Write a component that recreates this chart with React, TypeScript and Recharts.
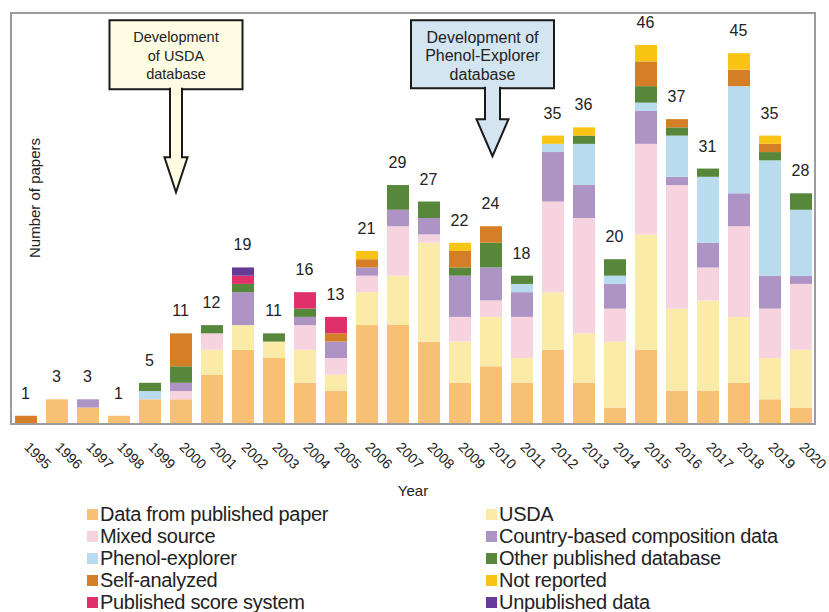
import { ComposedChart, Bar, Line, XAxis, YAxis, ReferenceDot } from "recharts"

const years = [
  "1995", "1996", "1997", "1998", "1999", "2000", "2001", "2002", "2003",
  "2004", "2005", "2006", "2007", "2008", "2009", "2010", "2011", "2012",
  "2013", "2014", "2015", "2016", "2017", "2018", "2019", "2020",
]

const publishedPaper = [0, 3, 2, 1, 3, 3, 6, 9, 8, 5, 4, 12, 12, 10, 5, 7, 5, 9, 5, 2, 9, 4, 4, 5, 3, 2]
const usda = [0, 0, 0, 0, 0, 0, 3, 3, 2, 4, 2, 4, 6, 12, 5, 6, 3, 7, 6, 8, 14, 10, 11, 8, 5, 7]
const mixedSource = [0, 0, 0, 0, 0, 1, 2, 0, 0, 3, 2, 2, 6, 1, 3, 2, 5, 11, 14, 4, 11, 15, 4, 11, 6, 8]
const countryBased = [0, 0, 1, 0, 0, 1, 0, 4, 0, 1, 2, 1, 2, 2, 5, 4, 3, 6, 4, 3, 4, 1, 3, 4, 4, 1]
const phenolExplorer = [0, 0, 0, 0, 1, 0, 0, 0, 0, 0, 0, 0, 0, 0, 0, 0, 1, 1, 5, 1, 1, 5, 8, 13, 14, 8]
const otherDatabase = [0, 0, 0, 0, 1, 2, 1, 1, 1, 1, 0, 0, 3, 2, 1, 3, 1, 0, 1, 2, 2, 1, 1, 0, 1, 2]
const selfAnalyzed = [1, 0, 0, 0, 0, 4, 0, 0, 0, 0, 1, 1, 0, 0, 2, 2, 0, 0, 0, 0, 3, 1, 0, 2, 1, 0]
const notReported = [0, 0, 0, 0, 0, 0, 0, 0, 0, 0, 0, 1, 0, 0, 1, 0, 0, 1, 1, 0, 2, 0, 0, 2, 1, 0]
const scoreSystem = [0, 0, 0, 0, 0, 0, 0, 1, 0, 2, 2, 0, 0, 0, 0, 0, 0, 0, 0, 0, 0, 0, 0, 0, 0, 0]
const unpublished = [0, 0, 0, 0, 0, 0, 0, 1, 0, 0, 0, 0, 0, 0, 0, 0, 0, 0, 0, 0, 0, 0, 0, 0, 0, 0]
const totals = [1, 3, 3, 1, 5, 11, 12, 19, 11, 16, 13, 21, 29, 27, 22, 24, 18, 35, 36, 20, 46, 37, 31, 45, 35, 28]

const series = [
  { key: "paper", name: "Data from published paper", values: publishedPaper, color: "#F8C074" },
  { key: "usda", name: "USDA", values: usda, color: "#FBEBA8" },
  { key: "mixed", name: "Mixed source", values: mixedSource, color: "#F7D3E0" },
  { key: "country", name: "Country-based composition data", values: countryBased, color: "#AE93C5" },
  { key: "phenol", name: "Phenol-explorer", values: phenolExplorer, color: "#B8DCEE" },
  { key: "other", name: "Other published database", values: otherDatabase, color: "#56873B" },
  { key: "self", name: "Self-analyzed", values: selfAnalyzed, color: "#D47F28" },
  { key: "notrep", name: "Not reported", values: notReported, color: "#F9C414" },
  { key: "score", name: "Published score system", values: scoreSystem, color: "#E0306B" },
  { key: "unpub", name: "Unpublished data", values: unpublished, color: "#643B98" },
]

const data = years.map((year, i) => {
  const row: Record<string, string | number> = { year, total: totals[i] }
  series.forEach((s) => (row[s.key] = s.values[i]))
  return row
})

const font = "Arial, 'Liberation Sans', Helvetica, sans-serif"

function YearTick({ x, y, payload }: any) {
  const tx = x - 2
  const ty = y + 24
  return (
    <text x={tx} y={ty} transform={`rotate(45, ${tx}, ${ty})`} textAnchor="start" fontSize={14} fill="#222">
      {payload.value}
    </text>
  )
}

function TotalLabel({ x, y, value }: any) {
  return (
    <text x={x} y={y - 17} textAnchor="middle" fontSize={16} fill="#222">
      {value}
    </text>
  )
}

// box + down arrow, anchored at the box's top edge
function makeCallout(opts: {
  lines: string[]
  fill: string
  boxW: number
  boxH: number
  boxDx: number
  arrowDx: number
  fontSize: number
  shaftW: number
  shaftLen: number
  headW: number
  headH: number
}) {
  return ({ cx, cy }: any) => {
    const bx = cx + opts.boxDx - opts.boxW / 2
    const bottom = cy + opts.boxH
    const c = cx + opts.arrowDx
    const sw = opts.shaftW / 2
    const hw = opts.headW / 2
    const headTop = bottom + opts.shaftLen
    const tip = headTop + opts.headH
    const path = `M${c - sw},${bottom - 1.5} L${c - sw},${headTop} L${c - hw},${headTop} L${c},${tip} L${c + hw},${headTop} L${c + sw},${headTop} L${c + sw},${bottom - 1.5}`
    return (
      <g>
        <rect x={bx} y={cy} width={opts.boxW} height={opts.boxH} fill={opts.fill} stroke="#1a1a1a" strokeWidth={2} />
        <path d={path} fill={opts.fill} stroke="#1a1a1a" strokeWidth={2} strokeLinejoin="miter" />
        {opts.lines.map((l, i) => (
          <text
            key={i}
            x={cx + opts.boxDx}
            y={cy + 17 + i * 18.5 + opts.fontSize * 0.35}
            textAnchor="middle"
            fontSize={opts.fontSize}
            fill="#222"
          >
            {l}
          </text>
        ))}
      </g>
    )
  }
}

const usdaCallout = makeCallout({
  lines: ["Development", "of USDA", "database"],
  fill: "#FEFCE3",
  boxW: 133,
  boxH: 69,
  boxDx: -4.5,
  arrowDx: -4.5,
  fontSize: 14.5,
  shaftW: 12,
  shaftLen: 68,
  headW: 23,
  headH: 35,
})

const phenolCallout = makeCallout({
  lines: ["Development of", "Phenol-Explorer", "database"],
  fill: "#D3E5F1",
  boxW: 143,
  boxH: 68,
  boxDx: -8,
  arrowDx: 2,
  fontSize: 16,
  shaftW: 15,
  shaftLen: 31,
  headW: 32,
  headH: 37,
})

export default function App() {
  return (
    <div style={{ position: "absolute", left: 0, top: 0, width: 829, height: 612, fontFamily: font, background: "#fff" }}>
      <ComposedChart
        width={829}
        height={505}
        data={data}
        margin={{ top: 12, right: 13, left: 10, bottom: 0 }}
        style={{ fontFamily: font }}
      >
        <XAxis
          dataKey="year"
          height={81}
          tickLine={false}
          tickSize={0}
          tickMargin={0}
          axisLine={false}
          interval={0}
          tick={<YearTick />}
          label={{ value: "Year", position: "insideBottom", offset: 9, fontSize: 15, fill: "#222" }}
        />
        <YAxis width={0} domain={[0, 50]} tick={false} axisLine={false} tickLine={false} />
        {series.map((s) => (
          <Bar key={s.key} dataKey={s.key} name={s.name} stackId="a" fill={s.color} barSize={22} isAnimationActive={false} />
        ))}
        <Line dataKey="total" stroke="none" dot={false} activeDot={false} label={<TotalLabel />} isAnimationActive={false} />
        <ReferenceDot x="2000" y={49} r={0} shape={usdaCallout} />
        <ReferenceDot x="2010" y={49} r={0} shape={phenolCallout} />
      </ComposedChart>
      <svg style={{ position: "absolute", left: 0, top: 0, pointerEvents: "none" }} width={80} height={420}>
        <text x={40} y={198} transform="rotate(-90, 40, 198)" textAnchor="middle" fontSize={15} fill="#222" fontFamily={font}>
          Number of papers
        </text>
      </svg>
      <div
        style={{
          position: "absolute",
          left: 10,
          top: 12,
          width: 806,
          height: 413,
          border: "2px solid #9c9c9c",
          boxSizing: "border-box",
          pointerEvents: "none",
        }}
      />
      <div
        style={{
          position: "absolute",
          left: 87,
          top: 503,
          display: "grid",
          gridTemplateColumns: "399px 340px",
          fontSize: 20,
          color: "#222",
        }}
      >
        {series.map((s) => (
          <div key={s.key} style={{ display: "flex", alignItems: "center", height: 22, whiteSpace: "nowrap" }}>
            <span style={{ display: "inline-block", width: 11, height: 11, background: s.color, marginRight: 2 }} />
            <span style={{ letterSpacing: -0.3 }}>{s.name}</span>
          </div>
        ))}
      </div>
    </div>
  )
}
